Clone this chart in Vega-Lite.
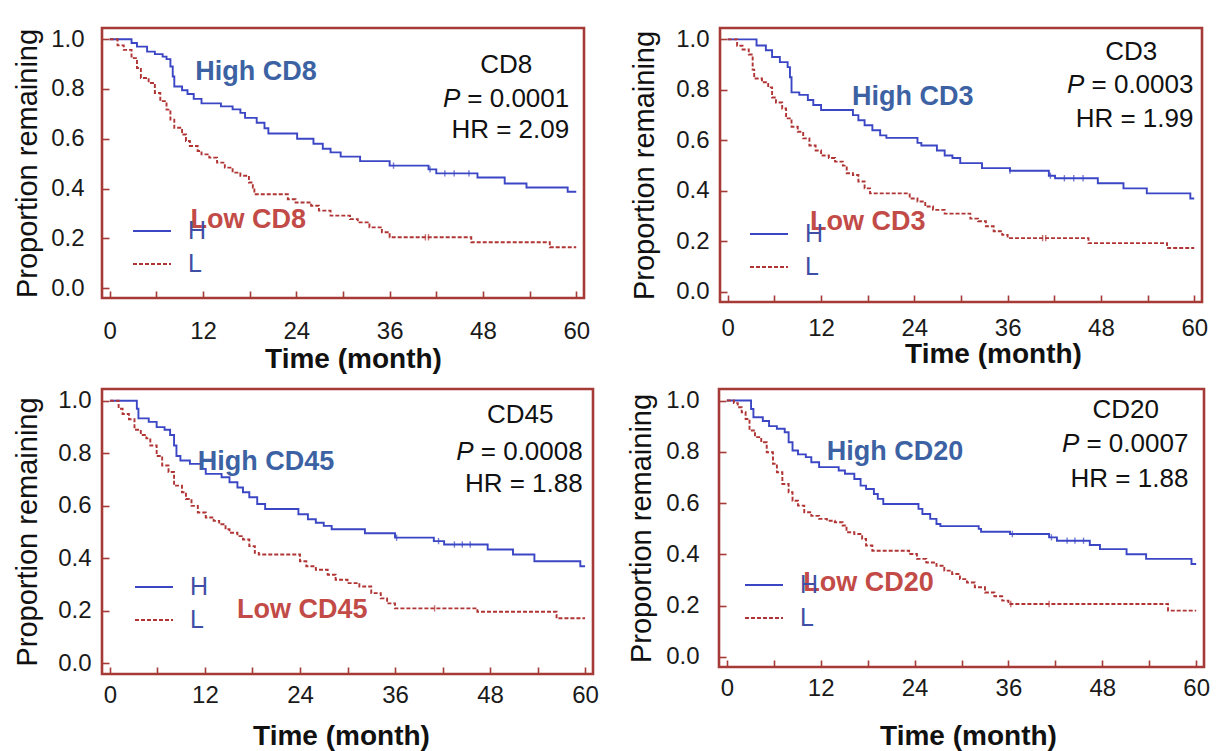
{
"$schema":"https://vega.github.io/schema/vega-lite/v6.json",
"background":"white",
"padding":{"left":12,"top":25,"right":5,"bottom":5},
"config":{
 "view":{"stroke":"#A63A37","strokeWidth":2.6},
 "axis":{"labelFont":"Liberation Sans","labelFontSize":24,"labelColor":"#1a1a1a","titleFont":"Liberation Sans","titleColor":"#111","titleFontSize":28,"tickColor":"#A63A37","tickWidth":1.6,"tickSize":-7,"domain":false,"grid":false,"labelFlush":false,"labelOverlap":false},
 "axisX":{"titleFontWeight":"bold"},
 "axisY":{"titleFontWeight":"normal","titleFontSize":29}
},
"datasets":{
"km":[
{"panel":"CD8","group":"H","t":0,"s":1},{"panel":"CD8","group":"H","t":2.8,"s":0.985},{"panel":"CD8","group":"H","t":3.5,"s":0.97},{"panel":"CD8","group":"H","t":4.8,"s":0.95},{"panel":"CD8","group":"H","t":5.8,"s":0.94},{"panel":"CD8","group":"H","t":6.8,"s":0.93},{"panel":"CD8","group":"H","t":7.3,"s":0.92},{"panel":"CD8","group":"H","t":7.8,"s":0.89},{"panel":"CD8","group":"H","t":8.1,"s":0.85},{"panel":"CD8","group":"H","t":8.3,"s":0.81},{"panel":"CD8","group":"H","t":9.3,"s":0.795},{"panel":"CD8","group":"H","t":10,"s":0.78},{"panel":"CD8","group":"H","t":10.8,"s":0.76},{"panel":"CD8","group":"H","t":11.8,"s":0.742},{"panel":"CD8","group":"H","t":14.3,"s":0.73},{"panel":"CD8","group":"H","t":15.8,"s":0.718},{"panel":"CD8","group":"H","t":16.8,"s":0.704},{"panel":"CD8","group":"H","t":17.4,"s":0.684},{"panel":"CD8","group":"H","t":18.9,"s":0.664},{"panel":"CD8","group":"H","t":19.9,"s":0.642},{"panel":"CD8","group":"H","t":20.4,"s":0.621},{"panel":"CD8","group":"H","t":24.1,"s":0.6},{"panel":"CD8","group":"H","t":26.2,"s":0.58},{"panel":"CD8","group":"H","t":27.4,"s":0.56},{"panel":"CD8","group":"H","t":28.4,"s":0.545},{"panel":"CD8","group":"H","t":29.7,"s":0.528},{"panel":"CD8","group":"H","t":32.2,"s":0.51},{"panel":"CD8","group":"H","t":36,"s":0.492},{"panel":"CD8","group":"H","t":41,"s":0.477},{"panel":"CD8","group":"H","t":42,"s":0.461},{"panel":"CD8","group":"H","t":47.3,"s":0.444},{"panel":"CD8","group":"H","t":50.8,"s":0.42},{"panel":"CD8","group":"H","t":53.6,"s":0.404},{"panel":"CD8","group":"H","t":58.9,"s":0.387},{"panel":"CD8","group":"H","t":60,"s":0.387},
{"panel":"CD8","group":"L","t":0,"s":1},{"panel":"CD8","group":"L","t":1,"s":0.975},{"panel":"CD8","group":"L","t":1.8,"s":0.957},{"panel":"CD8","group":"L","t":2.8,"s":0.924},{"panel":"CD8","group":"L","t":3.5,"s":0.884},{"panel":"CD8","group":"L","t":4,"s":0.844},{"panel":"CD8","group":"L","t":5,"s":0.824},{"panel":"CD8","group":"L","t":5.8,"s":0.784},{"panel":"CD8","group":"L","t":6.5,"s":0.751},{"panel":"CD8","group":"L","t":7.3,"s":0.717},{"panel":"CD8","group":"L","t":7.8,"s":0.677},{"panel":"CD8","group":"L","t":8.3,"s":0.644},{"panel":"CD8","group":"L","t":9.3,"s":0.617},{"panel":"CD8","group":"L","t":9.8,"s":0.591},{"panel":"CD8","group":"L","t":10.3,"s":0.571},{"panel":"CD8","group":"L","t":11.3,"s":0.551},{"panel":"CD8","group":"L","t":11.8,"s":0.537},{"panel":"CD8","group":"L","t":12.8,"s":0.524},{"panel":"CD8","group":"L","t":13.8,"s":0.504},{"panel":"CD8","group":"L","t":14.8,"s":0.484},{"panel":"CD8","group":"L","t":15.8,"s":0.464},{"panel":"CD8","group":"L","t":16.8,"s":0.451},{"panel":"CD8","group":"L","t":17.9,"s":0.424},{"panel":"CD8","group":"L","t":18.4,"s":0.404},{"panel":"CD8","group":"L","t":18.6,"s":0.377},{"panel":"CD8","group":"L","t":22.9,"s":0.357},{"panel":"CD8","group":"L","t":23.9,"s":0.344},{"panel":"CD8","group":"L","t":25.9,"s":0.331},{"panel":"CD8","group":"L","t":26.9,"s":0.311},{"panel":"CD8","group":"L","t":28.4,"s":0.291},{"panel":"CD8","group":"L","t":30.9,"s":0.277},{"panel":"CD8","group":"L","t":31.9,"s":0.264},{"panel":"CD8","group":"L","t":33.4,"s":0.244},{"panel":"CD8","group":"L","t":35,"s":0.224},{"panel":"CD8","group":"L","t":36,"s":0.204},{"panel":"CD8","group":"L","t":46.5,"s":0.184},{"panel":"CD8","group":"L","t":56.6,"s":0.164},{"panel":"CD8","group":"L","t":60,"s":0.164},
{"panel":"CD3","group":"H","t":0,"s":1},{"panel":"CD3","group":"H","t":3.7,"s":0.976},{"panel":"CD3","group":"H","t":4.9,"s":0.957},{"panel":"CD3","group":"H","t":5.7,"s":0.93},{"panel":"CD3","group":"H","t":6.7,"s":0.91},{"panel":"CD3","group":"H","t":7.7,"s":0.89},{"panel":"CD3","group":"H","t":8,"s":0.85},{"panel":"CD3","group":"H","t":8.2,"s":0.79},{"panel":"CD3","group":"H","t":9.2,"s":0.78},{"panel":"CD3","group":"H","t":10.3,"s":0.76},{"panel":"CD3","group":"H","t":11,"s":0.74},{"panel":"CD3","group":"H","t":12,"s":0.72},{"panel":"CD3","group":"H","t":16.1,"s":0.7},{"panel":"CD3","group":"H","t":16.8,"s":0.68},{"panel":"CD3","group":"H","t":17.6,"s":0.66},{"panel":"CD3","group":"H","t":18.6,"s":0.64},{"panel":"CD3","group":"H","t":19.6,"s":0.62},{"panel":"CD3","group":"H","t":20.4,"s":0.61},{"panel":"CD3","group":"H","t":24.4,"s":0.59},{"panel":"CD3","group":"H","t":24.9,"s":0.58},{"panel":"CD3","group":"H","t":26.9,"s":0.56},{"panel":"CD3","group":"H","t":27.9,"s":0.54},{"panel":"CD3","group":"H","t":28.9,"s":0.53},{"panel":"CD3","group":"H","t":29.9,"s":0.51},{"panel":"CD3","group":"H","t":32.7,"s":0.49},{"panel":"CD3","group":"H","t":36.3,"s":0.48},{"panel":"CD3","group":"H","t":41.3,"s":0.46},{"panel":"CD3","group":"H","t":42.1,"s":0.45},{"panel":"CD3","group":"H","t":47.6,"s":0.43},{"panel":"CD3","group":"H","t":50.9,"s":0.41},{"panel":"CD3","group":"H","t":53.9,"s":0.39},{"panel":"CD3","group":"H","t":59.5,"s":0.37},{"panel":"CD3","group":"H","t":60,"s":0.37},
{"panel":"CD3","group":"L","t":0,"s":1},{"panel":"CD3","group":"L","t":1.2,"s":0.975},{"panel":"CD3","group":"L","t":1.9,"s":0.96},{"panel":"CD3","group":"L","t":2.7,"s":0.94},{"panel":"CD3","group":"L","t":3.2,"s":0.88},{"panel":"CD3","group":"L","t":3.4,"s":0.845},{"panel":"CD3","group":"L","t":4.4,"s":0.83},{"panel":"CD3","group":"L","t":5.2,"s":0.81},{"panel":"CD3","group":"L","t":5.7,"s":0.77},{"panel":"CD3","group":"L","t":6.2,"s":0.75},{"panel":"CD3","group":"L","t":7,"s":0.726},{"panel":"CD3","group":"L","t":7.5,"s":0.687},{"panel":"CD3","group":"L","t":8.2,"s":0.654},{"panel":"CD3","group":"L","t":9,"s":0.634},{"panel":"CD3","group":"L","t":9.7,"s":0.608},{"panel":"CD3","group":"L","t":10.5,"s":0.58},{"panel":"CD3","group":"L","t":11.3,"s":0.56},{"panel":"CD3","group":"L","t":12,"s":0.54},{"panel":"CD3","group":"L","t":13,"s":0.53},{"panel":"CD3","group":"L","t":13.8,"s":0.516},{"panel":"CD3","group":"L","t":14.8,"s":0.5},{"panel":"CD3","group":"L","t":15.3,"s":0.47},{"panel":"CD3","group":"L","t":16.1,"s":0.463},{"panel":"CD3","group":"L","t":16.8,"s":0.437},{"panel":"CD3","group":"L","t":17.6,"s":0.41},{"panel":"CD3","group":"L","t":18.3,"s":0.39},{"panel":"CD3","group":"L","t":23.4,"s":0.37},{"panel":"CD3","group":"L","t":24.4,"s":0.358},{"panel":"CD3","group":"L","t":25.4,"s":0.338},{"panel":"CD3","group":"L","t":26.4,"s":0.325},{"panel":"CD3","group":"L","t":27.9,"s":0.31},{"panel":"CD3","group":"L","t":31.2,"s":0.29},{"panel":"CD3","group":"L","t":32.2,"s":0.28},{"panel":"CD3","group":"L","t":33.2,"s":0.26},{"panel":"CD3","group":"L","t":34.2,"s":0.24},{"panel":"CD3","group":"L","t":35.3,"s":0.226},{"panel":"CD3","group":"L","t":36,"s":0.213},{"panel":"CD3","group":"L","t":46.4,"s":0.193},{"panel":"CD3","group":"L","t":56.5,"s":0.174},{"panel":"CD3","group":"L","t":60,"s":0.174},
{"panel":"CD45","group":"H","t":0,"s":1},{"panel":"CD45","group":"H","t":3.4,"s":0.97},{"panel":"CD45","group":"H","t":3.6,"s":0.933},{"panel":"CD45","group":"H","t":4.9,"s":0.92},{"panel":"CD45","group":"H","t":5.9,"s":0.9},{"panel":"CD45","group":"H","t":6.9,"s":0.89},{"panel":"CD45","group":"H","t":7.6,"s":0.87},{"panel":"CD45","group":"H","t":8.1,"s":0.83},{"panel":"CD45","group":"H","t":8.4,"s":0.79},{"panel":"CD45","group":"H","t":8.9,"s":0.773},{"panel":"CD45","group":"H","t":10.1,"s":0.76},{"panel":"CD45","group":"H","t":11.6,"s":0.741},{"panel":"CD45","group":"H","t":12.1,"s":0.722},{"panel":"CD45","group":"H","t":14.1,"s":0.709},{"panel":"CD45","group":"H","t":15.1,"s":0.69},{"panel":"CD45","group":"H","t":16.1,"s":0.67},{"panel":"CD45","group":"H","t":16.8,"s":0.652},{"panel":"CD45","group":"H","t":17.6,"s":0.633},{"panel":"CD45","group":"H","t":18.6,"s":0.607},{"panel":"CD45","group":"H","t":19.6,"s":0.588},{"panel":"CD45","group":"H","t":23.8,"s":0.568},{"panel":"CD45","group":"H","t":25,"s":0.549},{"panel":"CD45","group":"H","t":26,"s":0.536},{"panel":"CD45","group":"H","t":27,"s":0.524},{"panel":"CD45","group":"H","t":28,"s":0.511},{"panel":"CD45","group":"H","t":32.2,"s":0.496},{"panel":"CD45","group":"H","t":36,"s":0.479},{"panel":"CD45","group":"H","t":40.9,"s":0.466},{"panel":"CD45","group":"H","t":42.2,"s":0.453},{"panel":"CD45","group":"H","t":47.7,"s":0.434},{"panel":"CD45","group":"H","t":50.9,"s":0.415},{"panel":"CD45","group":"H","t":53.6,"s":0.389},{"panel":"CD45","group":"H","t":59.4,"s":0.37},{"panel":"CD45","group":"H","t":60,"s":0.37},
{"panel":"CD45","group":"L","t":0,"s":1},{"panel":"CD45","group":"L","t":1.1,"s":0.97},{"panel":"CD45","group":"L","t":1.6,"s":0.95},{"panel":"CD45","group":"L","t":2.4,"s":0.93},{"panel":"CD45","group":"L","t":3.1,"s":0.89},{"panel":"CD45","group":"L","t":3.9,"s":0.87},{"panel":"CD45","group":"L","t":4.6,"s":0.857},{"panel":"CD45","group":"L","t":5.1,"s":0.83},{"panel":"CD45","group":"L","t":5.9,"s":0.79},{"panel":"CD45","group":"L","t":6.6,"s":0.754},{"panel":"CD45","group":"L","t":7.4,"s":0.729},{"panel":"CD45","group":"L","t":8.1,"s":0.677},{"panel":"CD45","group":"L","t":9.1,"s":0.652},{"panel":"CD45","group":"L","t":9.6,"s":0.626},{"panel":"CD45","group":"L","t":10.3,"s":0.6},{"panel":"CD45","group":"L","t":11.1,"s":0.575},{"panel":"CD45","group":"L","t":12.1,"s":0.556},{"panel":"CD45","group":"L","t":13.1,"s":0.543},{"panel":"CD45","group":"L","t":13.8,"s":0.53},{"panel":"CD45","group":"L","t":14.6,"s":0.511},{"panel":"CD45","group":"L","t":15.1,"s":0.498},{"panel":"CD45","group":"L","t":16.1,"s":0.485},{"panel":"CD45","group":"L","t":16.8,"s":0.472},{"panel":"CD45","group":"L","t":17.6,"s":0.447},{"panel":"CD45","group":"L","t":18.3,"s":0.421},{"panel":"CD45","group":"L","t":18.8,"s":0.415},{"panel":"CD45","group":"L","t":24,"s":0.389},{"panel":"CD45","group":"L","t":24.8,"s":0.37},{"panel":"CD45","group":"L","t":26,"s":0.357},{"panel":"CD45","group":"L","t":27.5,"s":0.338},{"panel":"CD45","group":"L","t":28.5,"s":0.319},{"panel":"CD45","group":"L","t":30,"s":0.306},{"panel":"CD45","group":"L","t":31.5,"s":0.293},{"panel":"CD45","group":"L","t":33,"s":0.268},{"panel":"CD45","group":"L","t":34.2,"s":0.248},{"panel":"CD45","group":"L","t":35,"s":0.229},{"panel":"CD45","group":"L","t":36,"s":0.21},{"panel":"CD45","group":"L","t":46.4,"s":0.197},{"panel":"CD45","group":"L","t":56.4,"s":0.172},{"panel":"CD45","group":"L","t":60,"s":0.172},
{"panel":"CD20","group":"H","t":0,"s":1},{"panel":"CD20","group":"H","t":3.1,"s":0.967},{"panel":"CD20","group":"H","t":3.4,"s":0.935},{"panel":"CD20","group":"H","t":4.6,"s":0.92},{"panel":"CD20","group":"H","t":5.4,"s":0.9},{"panel":"CD20","group":"H","t":6.4,"s":0.89},{"panel":"CD20","group":"H","t":7.4,"s":0.876},{"panel":"CD20","group":"H","t":7.9,"s":0.837},{"panel":"CD20","group":"H","t":8.4,"s":0.805},{"panel":"CD20","group":"H","t":9.1,"s":0.79},{"panel":"CD20","group":"H","t":10.1,"s":0.779},{"panel":"CD20","group":"H","t":10.8,"s":0.759},{"panel":"CD20","group":"H","t":11.8,"s":0.74},{"panel":"CD20","group":"H","t":14.3,"s":0.727},{"panel":"CD20","group":"H","t":15.1,"s":0.714},{"panel":"CD20","group":"H","t":16.3,"s":0.694},{"panel":"CD20","group":"H","t":17.1,"s":0.668},{"panel":"CD20","group":"H","t":17.8,"s":0.655},{"panel":"CD20","group":"H","t":18.8,"s":0.635},{"panel":"CD20","group":"H","t":19.3,"s":0.616},{"panel":"CD20","group":"H","t":20,"s":0.596},{"panel":"CD20","group":"H","t":24.5,"s":0.577},{"panel":"CD20","group":"H","t":25,"s":0.557},{"panel":"CD20","group":"H","t":26,"s":0.538},{"panel":"CD20","group":"H","t":26.8,"s":0.518},{"panel":"CD20","group":"H","t":27.3,"s":0.51},{"panel":"CD20","group":"H","t":32.2,"s":0.499},{"panel":"CD20","group":"H","t":32.5,"s":0.488},{"panel":"CD20","group":"H","t":36.2,"s":0.479},{"panel":"CD20","group":"H","t":41.2,"s":0.466},{"panel":"CD20","group":"H","t":42.2,"s":0.453},{"panel":"CD20","group":"H","t":46.4,"s":0.436},{"panel":"CD20","group":"H","t":47.7,"s":0.42},{"panel":"CD20","group":"H","t":51.1,"s":0.4},{"panel":"CD20","group":"H","t":53.6,"s":0.382},{"panel":"CD20","group":"H","t":59.4,"s":0.362},{"panel":"CD20","group":"H","t":60,"s":0.362},
{"panel":"CD20","group":"L","t":0,"s":1},{"panel":"CD20","group":"L","t":0.9,"s":0.99},{"panel":"CD20","group":"L","t":1.4,"s":0.974},{"panel":"CD20","group":"L","t":1.9,"s":0.954},{"panel":"CD20","group":"L","t":2.4,"s":0.928},{"panel":"CD20","group":"L","t":2.9,"s":0.883},{"panel":"CD20","group":"L","t":3.6,"s":0.857},{"panel":"CD20","group":"L","t":4.4,"s":0.837},{"panel":"CD20","group":"L","t":5.1,"s":0.798},{"panel":"CD20","group":"L","t":5.9,"s":0.753},{"panel":"CD20","group":"L","t":6.4,"s":0.72},{"panel":"CD20","group":"L","t":7.1,"s":0.674},{"panel":"CD20","group":"L","t":7.9,"s":0.642},{"panel":"CD20","group":"L","t":8.4,"s":0.609},{"panel":"CD20","group":"L","t":9.1,"s":0.59},{"panel":"CD20","group":"L","t":9.9,"s":0.564},{"panel":"CD20","group":"L","t":10.8,"s":0.55},{"panel":"CD20","group":"L","t":11.8,"s":0.538},{"panel":"CD20","group":"L","t":12.8,"s":0.531},{"panel":"CD20","group":"L","t":13.8,"s":0.525},{"panel":"CD20","group":"L","t":14.8,"s":0.512},{"panel":"CD20","group":"L","t":15.3,"s":0.486},{"panel":"CD20","group":"L","t":16.3,"s":0.479},{"panel":"CD20","group":"L","t":17.3,"s":0.46},{"panel":"CD20","group":"L","t":17.8,"s":0.434},{"panel":"CD20","group":"L","t":18.6,"s":0.414},{"panel":"CD20","group":"L","t":23.3,"s":0.401},{"panel":"CD20","group":"L","t":24.3,"s":0.382},{"panel":"CD20","group":"L","t":25.5,"s":0.368},{"panel":"CD20","group":"L","t":26.8,"s":0.355},{"panel":"CD20","group":"L","t":27.8,"s":0.336},{"panel":"CD20","group":"L","t":28.8,"s":0.323},{"panel":"CD20","group":"L","t":29.8,"s":0.303},{"panel":"CD20","group":"L","t":30.7,"s":0.29},{"panel":"CD20","group":"L","t":31.7,"s":0.271},{"panel":"CD20","group":"L","t":33,"s":0.251},{"panel":"CD20","group":"L","t":34.2,"s":0.236},{"panel":"CD20","group":"L","t":35.2,"s":0.219},{"panel":"CD20","group":"L","t":36,"s":0.206},{"panel":"CD20","group":"L","t":56.4,"s":0.18},{"panel":"CD20","group":"L","t":60,"s":0.18}
],
"censor":[
{"panel":"CD8","group":"H","t":36.5,"s":0.492},{"panel":"CD8","group":"H","t":41.2,"s":0.477},{"panel":"CD8","group":"H","t":43.1,"s":0.461},{"panel":"CD8","group":"H","t":44.3,"s":0.461},{"panel":"CD8","group":"H","t":46.2,"s":0.461},{"panel":"CD8","group":"L","t":40.6,"s":0.204},{"panel":"CD8","group":"L","t":41,"s":0.204},
{"panel":"CD3","group":"H","t":36.3,"s":0.48},{"panel":"CD3","group":"H","t":41.5,"s":0.46},{"panel":"CD3","group":"H","t":43.3,"s":0.45},{"panel":"CD3","group":"H","t":44.5,"s":0.45},{"panel":"CD3","group":"H","t":45.7,"s":0.45},{"panel":"CD3","group":"L","t":40.5,"s":0.213},{"panel":"CD3","group":"L","t":40.9,"s":0.213},
{"panel":"CD45","group":"H","t":36.2,"s":0.479},{"panel":"CD45","group":"H","t":41.5,"s":0.466},{"panel":"CD45","group":"H","t":43.5,"s":0.453},{"panel":"CD45","group":"H","t":44.5,"s":0.453},{"panel":"CD45","group":"H","t":45.5,"s":0.453},{"panel":"CD45","group":"L","t":41,"s":0.21},
{"panel":"CD20","group":"H","t":36.5,"s":0.479},{"panel":"CD20","group":"H","t":41.5,"s":0.466},{"panel":"CD20","group":"H","t":43.5,"s":0.453},{"panel":"CD20","group":"H","t":44.5,"s":0.453},{"panel":"CD20","group":"H","t":45.6,"s":0.453},{"panel":"CD20","group":"L","t":36.3,"s":0.206},{"panel":"CD20","group":"L","t":41.2,"s":0.206}
]
},
"vconcat":[
{"hconcat":[
 {"width":482,"height":270,"layer":[
  {"data":{"name":"km"},"transform":[{"filter":"datum.panel==='CD8'"}],"mark":{"type":"line","interpolate":"step-after","strokeWidth":1.9},
   "encoding":{
    "x":{"field":"t","type":"quantitative","scale":{"domain":[-1,61],"nice":false,"zero":false},"axis":{"title":"Time (month)","values":[0,6,12,18,24,30,36,42,48,54,60],"labelExpr":"datum.value % 12 === 0 ? datum.label : ''","labelPadding":28,"titlePadding":2,"titleX":251,"titleAlign":"center"}},
    "y":{"field":"s","type":"quantitative","scale":{"domain":[-0.04,1.045],"nice":false,"zero":false},"axis":{"title":"Proportion remaining","values":[0,0.1,0.2,0.3,0.4,0.5,0.6,0.7,0.8,0.9,1],"labelExpr":"round(datum.value*10) % 2 === 0 ? format(datum.value,'.1f') : ''","labelPadding":25,"titlePadding":8}},
    "color":{"field":"group","type":"nominal","scale":{"domain":["H","L"],"range":["#3A46C4","#B03434"]},"legend":{"orient":"none","legendX":30,"legendY":183,"title":null,"symbolType":"stroke","symbolSize":1444,"symbolStrokeWidth":1.8,"labelFontSize":25,"labelFont":"Liberation Sans","labelColor":"#3F4FA6","labelOffset":16,"rowPadding":0,"padding":0}},
    "strokeDash":{"field":"group","type":"nominal","scale":{"domain":["H","L"],"range":[[1,0],[4,2]]},"legend":{"orient":"none","legendX":30,"legendY":183,"title":null,"symbolType":"stroke","symbolSize":1444,"symbolStrokeWidth":1.8,"labelFontSize":25,"labelFont":"Liberation Sans","labelColor":"#3F4FA6","labelOffset":16,"rowPadding":0,"padding":0}}
   }},
  {"data":{"name":"censor"},"transform":[{"filter":"datum.panel==='CD8'"}],"mark":{"type":"point","shape":"M0,-1L0,1","size":40,"strokeWidth":1.4,"filled":false},
   "encoding":{"x":{"field":"t","type":"quantitative"},"y":{"field":"s","type":"quantitative"},"color":{"condition":{"test":"datum.group==='H'","value":"#3A46C4"},"value":"#B03434"}}},
  {"data":{"values":[{}]},"mark":{"type":"text","font":"Liberation Sans","fontSize":27,"fontWeight":"bold","color":"#3C62A4"},"encoding":{"x":{"datum":18.8},"y":{"datum":0.868},"text":{"value":"High CD8"}}},
  {"data":{"values":[{}]},"mark":{"type":"text","font":"Liberation Sans","fontSize":27,"fontWeight":"bold","color":"#C24B48"},"encoding":{"x":{"datum":17.8},"y":{"datum":0.273},"text":{"value":"Low CD8"}}},
  {"data":{"values":[{}]},"mark":{"type":"text","font":"Liberation Sans","fontSize":26,"color":"#111"},"encoding":{"x":{"datum":51.0},"y":{"datum":0.896},"text":{"value":"CD8"}}},
  {"data":{"values":[{}]},"mark":{"type":"text","font":"Liberation Sans","fontSize":26,"color":"#111","align":"right"},"encoding":{"x":{"datum":59.1},"y":{"datum":0.76},"text":{"value":"= 0.0001"}}},
  {"data":{"values":[{}]},"mark":{"type":"text","font":"Liberation Sans","fontSize":26,"fontStyle":"italic","color":"#111","align":"right","dx":-109},"encoding":{"x":{"datum":59.1},"y":{"datum":0.76},"text":{"value":"P"}}},
  {"data":{"values":[{}]},"mark":{"type":"text","font":"Liberation Sans","fontSize":26,"color":"#111","align":"right"},"encoding":{"x":{"datum":59.1},"y":{"datum":0.635},"text":{"value":"HR = 2.09"}}}
 ]},
 {"width":482,"height":274,"layer":[
  {"data":{"name":"km"},"transform":[{"filter":"datum.panel==='CD3'"}],"mark":{"type":"line","interpolate":"step-after","strokeWidth":1.9},
   "encoding":{
    "x":{"field":"t","type":"quantitative","scale":{"domain":[-1,61],"nice":false,"zero":false},"axis":{"title":"Time (month)","values":[0,6,12,18,24,30,36,42,48,54,60],"labelExpr":"datum.value % 12 === 0 ? datum.label : ''","labelPadding":21,"titlePadding":0,"titleX":273,"titleAlign":"center"}},
    "y":{"field":"s","type":"quantitative","scale":{"domain":[-0.04,1.045],"nice":false,"zero":false},"axis":{"title":"Proportion remaining","values":[0,0.1,0.2,0.3,0.4,0.5,0.6,0.7,0.8,0.9,1],"labelExpr":"round(datum.value*10) % 2 === 0 ? format(datum.value,'.1f') : ''","labelPadding":18,"titlePadding":16}},
    "color":{"field":"group","type":"nominal","scale":{"domain":["H","L"],"range":["#3A46C4","#B03434"]},"legend":{"orient":"none","legendX":29,"legendY":186,"title":null,"symbolType":"stroke","symbolSize":1444,"symbolStrokeWidth":1.8,"labelFontSize":25,"labelFont":"Liberation Sans","labelColor":"#3F4FA6","labelOffset":16,"rowPadding":0,"padding":0}},
    "strokeDash":{"field":"group","type":"nominal","scale":{"domain":["H","L"],"range":[[1,0],[4,2]]},"legend":{"orient":"none","legendX":29,"legendY":186,"title":null,"symbolType":"stroke","symbolSize":1444,"symbolStrokeWidth":1.8,"labelFontSize":25,"labelFont":"Liberation Sans","labelColor":"#3F4FA6","labelOffset":16,"rowPadding":0,"padding":0}}
   }},
  {"data":{"name":"censor"},"transform":[{"filter":"datum.panel==='CD3'"}],"mark":{"type":"point","shape":"M0,-1L0,1","size":40,"strokeWidth":1.4,"filled":false},
   "encoding":{"x":{"field":"t","type":"quantitative"},"y":{"field":"s","type":"quantitative"},"color":{"condition":{"test":"datum.group==='H'","value":"#3A46C4"},"value":"#B03434"}}},
  {"data":{"values":[{}]},"mark":{"type":"text","font":"Liberation Sans","fontSize":27,"fontWeight":"bold","color":"#3C62A4"},"encoding":{"x":{"datum":23.8},"y":{"datum":0.772},"text":{"value":"High CD3"}}},
  {"data":{"values":[{}]},"mark":{"type":"text","font":"Liberation Sans","fontSize":27,"fontWeight":"bold","color":"#C24B48"},"encoding":{"x":{"datum":18.0},"y":{"datum":0.277},"text":{"value":"Low CD3"}}},
  {"data":{"values":[{}]},"mark":{"type":"text","font":"Liberation Sans","fontSize":26,"color":"#111"},"encoding":{"x":{"datum":51.9},"y":{"datum":0.95},"text":{"value":"CD3"}}},
  {"data":{"values":[{}]},"mark":{"type":"text","font":"Liberation Sans","fontSize":26,"color":"#111","align":"right"},"encoding":{"x":{"datum":59.9},"y":{"datum":0.82},"text":{"value":"= 0.0003"}}},
  {"data":{"values":[{}]},"mark":{"type":"text","font":"Liberation Sans","fontSize":26,"fontStyle":"italic","color":"#111","align":"right","dx":-109},"encoding":{"x":{"datum":59.9},"y":{"datum":0.82},"text":{"value":"P"}}},
  {"data":{"values":[{}]},"mark":{"type":"text","font":"Liberation Sans","fontSize":26,"color":"#111","align":"right"},"encoding":{"x":{"datum":59.9},"y":{"datum":0.685},"text":{"value":"HR = 1.99"}}}
 ]}
],"spacing":136,"bounds":"flush","resolve":{"scale":{"color":"independent","strokeDash":"independent","x":"independent","y":"independent"},"legend":{"color":"independent","strokeDash":"independent"}}},
{"hconcat":[
 {"width":491,"height":285,"layer":[
  {"data":{"name":"km"},"transform":[{"filter":"datum.panel==='CD45'"}],"mark":{"type":"line","interpolate":"step-after","strokeWidth":1.9},
   "encoding":{
    "x":{"field":"t","type":"quantitative","scale":{"domain":[-1,61],"nice":false,"zero":false},"axis":{"title":"Time (month)","values":[0,6,12,18,24,30,36,42,48,54,60],"labelExpr":"datum.value % 12 === 0 ? datum.label : ''","labelPadding":16,"titlePadding":15,"titleX":239,"titleAlign":"center"}},
    "y":{"field":"s","type":"quantitative","scale":{"domain":[-0.04,1.045],"nice":false,"zero":false},"axis":{"title":"Proportion remaining","values":[0,0.1,0.2,0.3,0.4,0.5,0.6,0.7,0.8,0.9,1],"labelExpr":"round(datum.value*10) % 2 === 0 ? format(datum.value,'.1f') : ''","labelPadding":18,"titlePadding":15}},
    "color":{"field":"group","type":"nominal","scale":{"domain":["H","L"],"range":["#3A46C4","#B03434"]},"legend":{"orient":"none","legendX":32,"legendY":178,"title":null,"symbolType":"stroke","symbolSize":1444,"symbolStrokeWidth":1.8,"labelFontSize":25,"labelFont":"Liberation Sans","labelColor":"#3F4FA6","labelOffset":16,"rowPadding":0,"padding":0}},
    "strokeDash":{"field":"group","type":"nominal","scale":{"domain":["H","L"],"range":[[1,0],[4,2]]},"legend":{"orient":"none","legendX":32,"legendY":178,"title":null,"symbolType":"stroke","symbolSize":1444,"symbolStrokeWidth":1.8,"labelFontSize":25,"labelFont":"Liberation Sans","labelColor":"#3F4FA6","labelOffset":16,"rowPadding":0,"padding":0}}
   }},
  {"data":{"name":"censor"},"transform":[{"filter":"datum.panel==='CD45'"}],"mark":{"type":"point","shape":"M0,-1L0,1","size":40,"strokeWidth":1.4,"filled":false},
   "encoding":{"x":{"field":"t","type":"quantitative"},"y":{"field":"s","type":"quantitative"},"color":{"condition":{"test":"datum.group==='H'","value":"#3A46C4"},"value":"#B03434"}}},
  {"data":{"values":[{}]},"mark":{"type":"text","font":"Liberation Sans","fontSize":27,"fontWeight":"bold","color":"#3C62A4"},"encoding":{"x":{"datum":19.7},"y":{"datum":0.767},"text":{"value":"High CD45"}}},
  {"data":{"values":[{}]},"mark":{"type":"text","font":"Liberation Sans","fontSize":27,"fontWeight":"bold","color":"#C24B48"},"encoding":{"x":{"datum":24.3},"y":{"datum":0.204},"text":{"value":"Low CD45"}}},
  {"data":{"values":[{}]},"mark":{"type":"text","font":"Liberation Sans","fontSize":26,"color":"#111"},"encoding":{"x":{"datum":51.8},"y":{"datum":0.946},"text":{"value":"CD45"}}},
  {"data":{"values":[{}]},"mark":{"type":"text","font":"Liberation Sans","fontSize":26,"color":"#111","align":"right"},"encoding":{"x":{"datum":59.7},"y":{"datum":0.805},"text":{"value":"= 0.0008"}}},
  {"data":{"values":[{}]},"mark":{"type":"text","font":"Liberation Sans","fontSize":26,"fontStyle":"italic","color":"#111","align":"right","dx":-109},"encoding":{"x":{"datum":59.7},"y":{"datum":0.805},"text":{"value":"P"}}},
  {"data":{"values":[{}]},"mark":{"type":"text","font":"Liberation Sans","fontSize":26,"color":"#111","align":"right"},"encoding":{"x":{"datum":59.7},"y":{"datum":0.683},"text":{"value":"HR = 1.88"}}}
 ]},
 {"width":485,"height":278,"layer":[
  {"data":{"name":"km"},"transform":[{"filter":"datum.panel==='CD20'"}],"mark":{"type":"line","interpolate":"step-after","strokeWidth":1.9},
   "encoding":{
    "x":{"field":"t","type":"quantitative","scale":{"domain":[-1,61],"nice":false,"zero":false},"axis":{"title":"Time (month)","values":[0,6,12,18,24,30,36,42,48,54,60],"labelExpr":"datum.value % 12 === 0 ? datum.label : ''","labelPadding":16,"titlePadding":22,"titleX":249,"titleAlign":"center"}},
    "y":{"field":"s","type":"quantitative","scale":{"domain":[-0.04,1.045],"nice":false,"zero":false},"axis":{"title":"Proportion remaining","values":[0,0.1,0.2,0.3,0.4,0.5,0.6,0.7,0.8,0.9,1],"labelExpr":"round(datum.value*10) % 2 === 0 ? format(datum.value,'.1f') : ''","labelPadding":27,"titlePadding":9}},
    "color":{"field":"group","type":"nominal","scale":{"domain":["H","L"],"range":["#3A46C4","#B03434"]},"legend":{"orient":"none","legendX":25,"legendY":176,"title":null,"symbolType":"stroke","symbolSize":1444,"symbolStrokeWidth":1.8,"labelFontSize":25,"labelFont":"Liberation Sans","labelColor":"#3F4FA6","labelOffset":16,"rowPadding":0,"padding":0}},
    "strokeDash":{"field":"group","type":"nominal","scale":{"domain":["H","L"],"range":[[1,0],[4,2]]},"legend":{"orient":"none","legendX":25,"legendY":176,"title":null,"symbolType":"stroke","symbolSize":1444,"symbolStrokeWidth":1.8,"labelFontSize":25,"labelFont":"Liberation Sans","labelColor":"#3F4FA6","labelOffset":16,"rowPadding":0,"padding":0}}
   }},
  {"data":{"name":"censor"},"transform":[{"filter":"datum.panel==='CD20'"}],"mark":{"type":"point","shape":"M0,-1L0,1","size":40,"strokeWidth":1.4,"filled":false},
   "encoding":{"x":{"field":"t","type":"quantitative"},"y":{"field":"s","type":"quantitative"},"color":{"condition":{"test":"datum.group==='H'","value":"#3A46C4"},"value":"#B03434"}}},
  {"data":{"values":[{}]},"mark":{"type":"text","font":"Liberation Sans","fontSize":27,"fontWeight":"bold","color":"#3C62A4"},"encoding":{"x":{"datum":21.5},"y":{"datum":0.8},"text":{"value":"High CD20"}}},
  {"data":{"values":[{}]},"mark":{"type":"text","font":"Liberation Sans","fontSize":27,"fontWeight":"bold","color":"#C24B48"},"encoding":{"x":{"datum":18.1},"y":{"datum":0.288},"text":{"value":"Low CD20"}}},
  {"data":{"values":[{}]},"mark":{"type":"text","font":"Liberation Sans","fontSize":26,"color":"#111"},"encoding":{"x":{"datum":51.0},"y":{"datum":0.963},"text":{"value":"CD20"}}},
  {"data":{"values":[{}]},"mark":{"type":"text","font":"Liberation Sans","fontSize":26,"color":"#111","align":"right"},"encoding":{"x":{"datum":59.0},"y":{"datum":0.83},"text":{"value":"= 0.0007"}}},
  {"data":{"values":[{}]},"mark":{"type":"text","font":"Liberation Sans","fontSize":26,"fontStyle":"italic","color":"#111","align":"right","dx":-109},"encoding":{"x":{"datum":59.0},"y":{"datum":0.83},"text":{"value":"P"}}},
  {"data":{"values":[{}]},"mark":{"type":"text","font":"Liberation Sans","fontSize":26,"color":"#111","align":"right"},"encoding":{"x":{"datum":59.0},"y":{"datum":0.694},"text":{"value":"HR = 1.88"}}}
 ]}
],"spacing":126,"bounds":"flush","resolve":{"scale":{"color":"independent","strokeDash":"independent","x":"independent","y":"independent"},"legend":{"color":"independent","strokeDash":"independent"}}}
],
"spacing":361,
"bounds":"flush",
"resolve":{"scale":{"color":"independent","strokeDash":"independent","x":"independent","y":"independent"},"legend":{"color":"independent","strokeDash":"independent"}}
}
